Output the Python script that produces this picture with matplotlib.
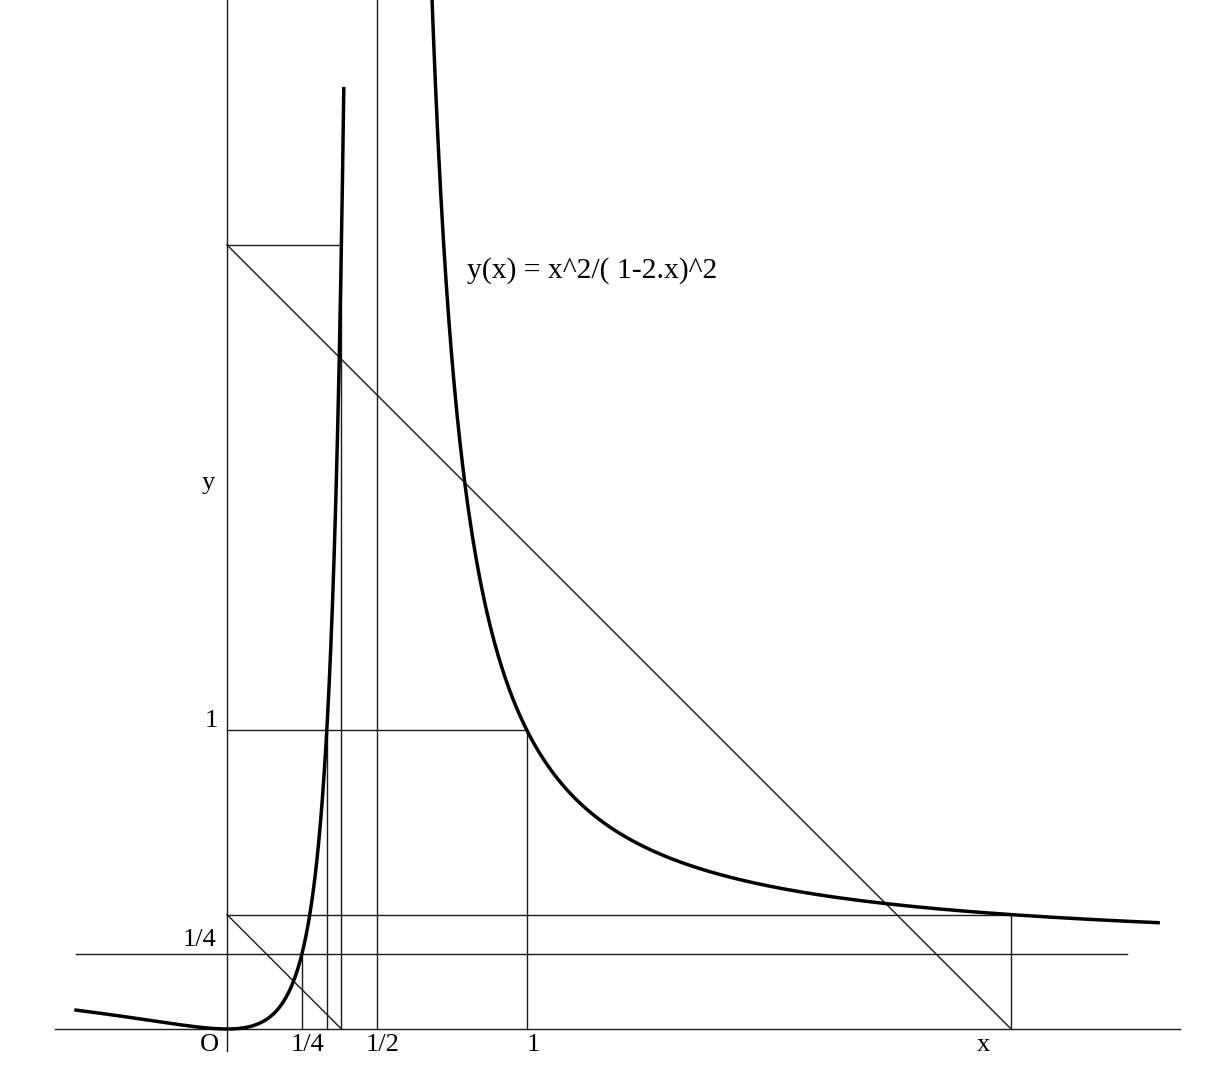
import numpy as np
import matplotlib
matplotlib.use("Agg")
import matplotlib.pyplot as plt

plt.rcParams['font.family'] = ['Liberation Serif', 'DejaVu Serif']

# function shown on the chart
formula_label = "y(x) = x^2/( 1-2.x)^2"

def y_of(x):
    return x ** 2 / (1 - 2 * x) ** 2

# golden ratio values used by the construction
phi2 = (3 + np.sqrt(5)) / 2      # ~2.618
inv_phi2 = (3 - np.sqrt(5)) / 2  # ~0.382

# branch extents
left_branch = [-0.504, 0.38996]
right_branch = [0.68, 3.109]

# tick labels
x_ticks = [0, 0.25, 0.5, 1, phi2]
x_tick_labels = ["O", "1/4", "1/2", "1", "x"]
y_ticks = [0.25, 1, 1.84]
y_tick_labels = ["1/4", "1", "y"]

# scale: 299.5 px per unit, origin at pixel (227, 1029)
S = 299.5
W, H = 1214, 1088
x0, y0 = 227, 1029

fig = plt.figure(figsize=(W / 100, H / 100), dpi=100)
ax = fig.add_axes([0, 0, 1, 1])
ax.set_xlim(-x0 / S, (W - x0) / S)
ax.set_ylim(-(H - y0) / S, y0 / S)
ax.axis("off")

thin = dict(color="#1a1a1a", lw=1.0)

# axes
ax.plot([-0.574, 3.182], [0, 0], **thin)
ax.plot([0, 0], [-0.073, 4], **thin)
# y = 1/4 line
ax.plot([-0.504, 3.005], [0.25, 0.25], **thin)
# asymptote x = 1/2
ax.plot([0.5, 0.5], [0, 4], **thin)

# x = 1/4 -> y = 1/4
ax.plot([0.25, 0.25], [0, y_of(0.25)], **thin)
# x = 1/3 -> y = 1 and x = 1 -> y = 1
ax.plot([1 / 3, 1 / 3], [0, 1], **thin)
ax.plot([0, 1], [1, 1], **thin)
ax.plot([1, 1], [0, 1], **thin)

# golden construction
ax.plot([0, inv_phi2], [phi2, phi2], **thin)
ax.plot([inv_phi2, inv_phi2], [0, phi2], **thin)
ax.plot([0, phi2], [inv_phi2, inv_phi2], **thin)
ax.plot([phi2, phi2], [0, inv_phi2], **thin)
ax.plot([0, phi2], [phi2, 0], **thin)
ax.plot([0, inv_phi2], [inv_phi2, 0], **thin)

# the curve
xl = np.linspace(left_branch[0], left_branch[1], 800)
xr = np.linspace(right_branch[0], right_branch[1], 800)
ax.plot(xl, y_of(xl), color="black", lw=2.5)
ax.plot(xr, y_of(xr), color="black", lw=2.5)

fs = 19
ax.text(0.801, 2.531, formula_label, fontsize=21.3, ha="left", va="center")

x_label_pos = [-0.057, 0.270, 0.518, 1.022, 2.524]
for xp, lab in zip(x_label_pos, x_tick_labels):
    ax.text(xp, -0.053, lab, fontsize=fs, ha="center", va="center")

y_label_pos = [(-0.09, 0.297), (-0.053, 1.028), (-0.063, 1.823)]
for (xp, yp), lab in zip(y_label_pos, y_tick_labels):
    ax.text(xp, yp, lab, fontsize=fs, ha="center", va="center")

fig.savefig("out.png", dpi=100, facecolor="white")
